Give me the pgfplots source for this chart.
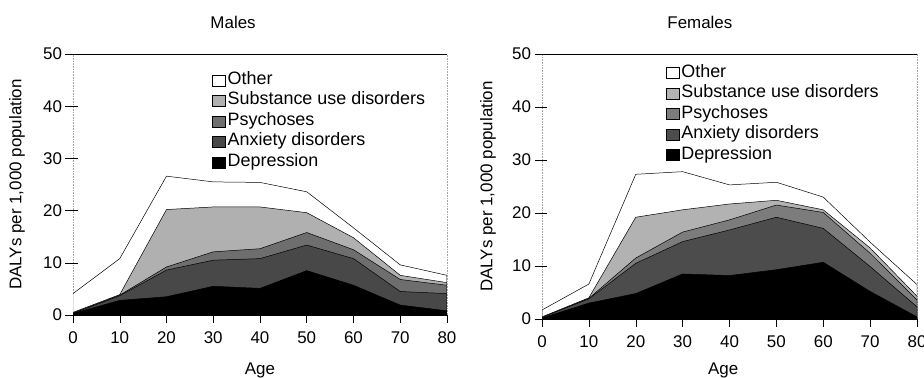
\documentclass[border=0pt]{standalone}
\usepackage{fontspec}
\setmainfont{Liberation Sans}
\usepackage{pgfplots}
\pgfplotsset{compat=1.18}
\definecolor{mSub}{HTML}{B0B0B0}
\definecolor{mPsy}{HTML}{6E6E6E}
\definecolor{mAnx}{HTML}{484848}
\definecolor{fSub}{HTML}{B2B2B2}
\definecolor{fPsy}{HTML}{7C7C7C}
\definecolor{fAnx}{HTML}{4C4C4C}
\pgfplotstableread{
age other subst psych anx dep
0  4.1  0.5  0.4  0.3  0.3
10 10.8 3.9  3.8  3.7  2.8
20 26.6 20.2 9.2  8.6  3.5
30 25.5 20.7 12.1 10.5 5.5
40 25.4 20.7 12.7 10.8 5.1
50 23.6 19.6 15.8 13.4 8.5
60 16.7 14.8 12.5 10.8 5.7
70 9.6  7.6  6.8  4.5  1.9
80 7.6  6.2  5.7  4.1  0.8
}\males
\pgfplotstableread{
age other subst psych anx dep
0  1.7  0.4  0.3  0.3  0.2
10 6.6  4.0  3.9  3.8  3.0
20 27.3 19.2 11.5 10.5 4.8
30 27.8 20.6 16.4 14.6 8.5
40 25.3 21.7 18.7 16.8 8.2
50 25.8 22.4 21.5 19.2 9.3
60 23.0 20.6 20.1 17.1 10.7
70 14.5 13.4 12.4 9.9  5.2
80 6.5  4.3  3.6  2.3  0.4
}\females
\pgfplotsset{
 mystyle/.style={
  scale only axis,
  xmin=0,xmax=80,ymin=0,ymax=50,
  xtick={0,10,...,80}, ytick={0,10,...,50},
  separate axis lines,
  x axis line style={black, line width=0.6pt},
  y axis line style={gray!70, densely dotted, line width=0.6pt},
  tick align=outside, major tick length=7.5bp,
  xtick pos=bottom, ytick pos=left,
  tick style={black, line width=0.5pt},
  extra y ticks={0,10,20,30,40,50},
  extra y tick labels={},
  extra y tick style={tick align=inside, major tick length=5bp, tick style={black, line width=0.5pt}},
  font=\fontsize{17}{20}\selectfont,
  x tick label style={yshift=-6bp},
  /pgf/number format/assume math mode=true,
  legend style={draw=none, fill=none, inner sep=0pt, row sep=0.5bp,
    font=\fontsize{18}{21}\selectfont,
    nodes={text height=12.5bp, text depth=3.5bp, inner sep=2bp}},
  legend cell align=left,
  legend image code/.code={\draw[##1,draw=black,line width=0.4pt] (0bp,-6bp) rectangle (13bp,5bp);},
  every axis plot/.append style={draw=black, line width=0.5pt},
  xlabel={Age},
  ylabel={DALYs per 1,000 population},
 }
}
\begin{document}
\begin{tikzpicture}[x=1bp,y=1bp]
\begin{axis}[mystyle, at={(73bp,63bp)}, anchor=south west, width=374bp, height=261bp,
  title={Males},
  title style={at={(axis description cs:0.428,1)}, anchor=base, yshift=20bp},
  xlabel style={at={(axis description cs:0.5,0)}, anchor=base, yshift=-59bp},
  ylabel style={at={(axis description cs:0,0.5)}, anchor=center, yshift=56bp},
  legend style={at={(axis description cs:0.372,0.94)}, anchor=north west}]
\addplot[fill=white] table[x=age,y=other]{\males} \closedcycle;
\addplot[fill=mSub] table[x=age,y=subst]{\males} \closedcycle;
\addplot[fill=mPsy] table[x=age,y=psych]{\males} \closedcycle;
\addplot[fill=mAnx] table[x=age,y=anx]{\males} \closedcycle;
\addplot[fill=black] table[x=age,y=dep]{\males} \closedcycle;
\legend{Other,Substance use disorders,Psychoses,Anxiety disorders,Depression}
\end{axis}
\begin{axis}[mystyle, at={(542bp,59bp)}, anchor=south west, width=375bp, height=265bp,
  title={Females},
  title style={at={(axis description cs:0.421,1)}, anchor=base, yshift=20bp},
  xlabel style={at={(axis description cs:0.483,0)}, anchor=base, yshift=-55bp},
  ylabel style={at={(axis description cs:0,0.5)}, anchor=center, yshift=54bp},
  legend style={at={(axis description cs:0.33,0.968)}, anchor=north west}]
\addplot[fill=white] table[x=age,y=other]{\females} \closedcycle;
\addplot[fill=fSub] table[x=age,y=subst]{\females} \closedcycle;
\addplot[fill=fPsy] table[x=age,y=psych]{\females} \closedcycle;
\addplot[fill=fAnx] table[x=age,y=anx]{\females} \closedcycle;
\addplot[fill=black] table[x=age,y=dep]{\females} \closedcycle;
\legend{Other,Substance use disorders,Psychoses,Anxiety disorders,Depression}
\end{axis}
\pgfresetboundingbox
\useasboundingbox (0bp,0bp) rectangle (924bp,378bp);
\end{tikzpicture}
\end{document}
